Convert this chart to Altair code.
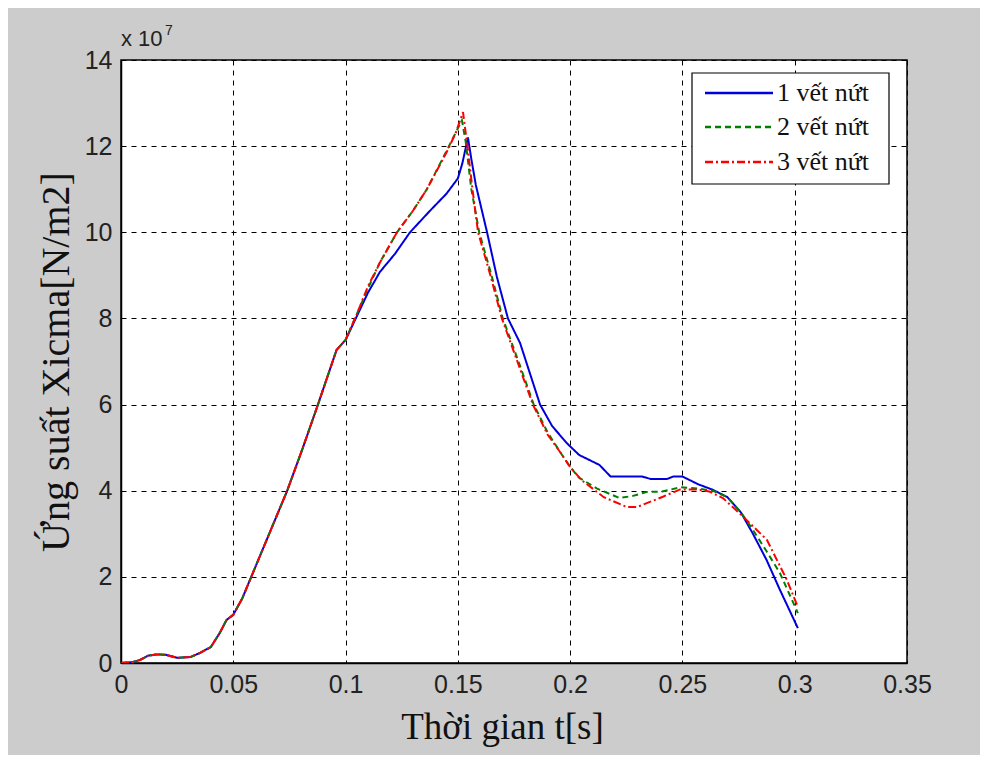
import altair as alt
import pandas as pd

# shared rising part (t in s, stress in 1e7 N/m2)
rise_t = [0, 0.005, 0.0085, 0.012, 0.016, 0.02, 0.025, 0.031, 0.035, 0.04, 0.044,
          0.047, 0.05, 0.054, 0.058, 0.066, 0.074, 0.081, 0.0877, 0.096, 0.1]
rise_y = [0, 0.02, 0.07, 0.17, 0.2, 0.19, 0.12, 0.14, 0.23, 0.37, 0.7,
          1.0, 1.12, 1.5, 2.0, 3.0, 4.0, 5.0, 6.0, 7.27, 7.5]

s1_t = [0.105, 0.11, 0.1153, 0.122, 0.1287, 0.1376, 0.145, 0.15, 0.152, 0.1545, 0.156,
        0.158, 0.163, 0.1674, 0.1723, 0.1777, 0.1866, 0.192, 0.1986, 0.204, 0.213,
        0.218, 0.232, 0.236, 0.243, 0.246, 0.25, 0.257, 0.2636, 0.27, 0.276, 0.2814,
        0.2874, 0.2934, 0.3014]
s1_y = [8.05, 8.6, 9.08, 9.5, 10.0, 10.5, 10.9, 11.25, 11.6, 12.2, 11.7,
        11.1, 10.0, 8.96, 8.0, 7.43, 6.0, 5.5, 5.1, 4.83, 4.6,
        4.33, 4.33, 4.27, 4.27, 4.33, 4.33, 4.15, 4.02, 3.85, 3.5, 3.0,
        2.4, 1.7, 0.81]

s2_t = [0.105, 0.11, 0.1153, 0.1229, 0.13, 0.1362, 0.1451, 0.1518, 0.1535, 0.156,
        0.1595, 0.165, 0.17, 0.177, 0.1838, 0.19, 0.1955, 0.2, 0.204, 0.212, 0.222,
        0.228, 0.234, 0.241, 0.249, 0.2566, 0.2636, 0.27, 0.276, 0.2814, 0.2874,
        0.2934, 0.3014]
s2_y = [8.1, 8.7, 9.3, 10.0, 10.5, 11.0, 11.9, 12.6, 12.1, 11.0,
        10.0, 9.0, 8.0, 7.0, 6.0, 5.35, 4.9, 4.55, 4.3, 4.05, 3.83,
        3.88, 3.97, 3.98, 4.08, 4.05, 4.0, 3.85, 3.5, 3.09, 2.6,
        2.09, 1.16]

s3_t = [0.105, 0.11, 0.1153, 0.1229, 0.13, 0.1362, 0.1451, 0.149, 0.1523, 0.1545,
        0.1565, 0.159, 0.1645, 0.1696, 0.1765, 0.1834, 0.19, 0.1955, 0.2, 0.205,
        0.215, 0.2253, 0.2297, 0.2413, 0.249, 0.2566, 0.262, 0.268, 0.276, 0.2876,
        0.2965, 0.3014]
s3_y = [8.1, 8.75, 9.3, 10.0, 10.5, 11.0, 11.87, 12.3, 12.79, 11.9,
        11.0, 10.0, 9.0, 8.0, 7.0, 6.0, 5.3, 4.9, 4.55, 4.25,
        3.85, 3.62, 3.62, 3.86, 4.03, 4.03, 3.98, 3.83, 3.45, 2.86,
        1.93, 1.3]

series_names = ["1 vết nứt", "2 vết nứt", "3 vết nứt"]
series_colors = ["#0000dd", "#008000", "#ff0000"]
series_dash = [[1, 0], [6, 4], [8, 3, 2, 3]]

x_ticks = [0, 0.05, 0.1, 0.15, 0.2, 0.25, 0.3, 0.35]
y_ticks = [0, 2, 4, 6, 8, 10, 12, 14]

rows = []
for name, ts, ys in zip(series_names, [s1_t, s2_t, s3_t], [s1_y, s2_y, s3_y]):
    allt = rise_t + ts
    ally = rise_y + ys
    for i, (t, y) in enumerate(zip(allt, ally)):
        rows.append({"t": t, "y": y, "series": name, "order": i})
df = pd.DataFrame(rows)

color_scale = alt.Scale(domain=series_names, range=series_colors)
dash_scale = alt.Scale(domain=series_names, range=series_dash)

lines = alt.Chart(df).mark_line(strokeWidth=2, clip=True).encode(
    x=alt.X("t:Q", scale=alt.Scale(domain=[0, 0.35], nice=False),
            axis=alt.Axis(values=x_ticks, format="~g", title="Thời gian t[s]",
                          grid=True, titlePadding=12, titleFontSize=37,
                          labelFlush=False, titleX=381, titleAlign="center")),
    y=alt.Y("y:Q", scale=alt.Scale(domain=[0, 14], nice=False),
            axis=alt.Axis(values=y_ticks, format="~g", title="Ứng suất Xicma[N/m2]",
                          grid=True, titlePadding=8, titleFontSize=40,
                          labelFlush=False)),
    color=alt.Color("series:N", scale=color_scale, legend=None),
    strokeDash=alt.StrokeDash("series:N", scale=dash_scale, legend=None),
    order="order:Q",
)

one = pd.DataFrame({"a": [0]})

exp_text = alt.Chart(one).mark_text(
    text="x 10", align="left", baseline="bottom", fontSize=22,
    font="Liberation Sans", color="#222"
).encode(x=alt.value(0), y=alt.value(-9))
exp_sup = alt.Chart(one).mark_text(
    text="7", align="left", baseline="bottom", fontSize=14,
    font="Liberation Sans", color="#222"
).encode(x=alt.value(44), y=alt.value(-22))

# legend (manual, MATLAB style)
legend_box = alt.Chart(one).mark_rect(fill="white", stroke="black", strokeWidth=1.2).encode(
    x=alt.value(571), x2=alt.value(768), y=alt.value(13), y2=alt.value(124)
)
legend_layers = [legend_box]
row_y = [33, 67, 102]
for name, col, dash, yy in zip(series_names, series_colors, series_dash, row_y):
    legend_layers.append(
        alt.Chart(one).mark_rule(color=col, strokeWidth=2.5, strokeDash=dash).encode(
            x=alt.value(584), x2=alt.value(652), y=alt.value(yy)
        )
    )
    legend_layers.append(
        alt.Chart(one).mark_text(text=name, align="left", baseline="middle",
                                 font="Liberation Serif",
                                 fontSize=26, color="#111").encode(
            x=alt.value(656), y=alt.value(yy)
        )
    )

chart = alt.layer(lines, exp_text, exp_sup, *legend_layers).properties(
    width=786, height=603,
    autosize=alt.AutoSizeParams(type="none"),
    padding={"left": 113, "top": 52, "right": 73, "bottom": 92},
    background="#cccccc",
).configure_view(
    fill="white", stroke="black", strokeWidth=1.5
).configure_axis(
    labelFont="Liberation Sans", labelFontSize=25, labelColor="#222",
    titleFont="Liberation Serif", titleFontWeight="normal",
    titleColor="#111",
    gridColor="black", gridDash=[5, 5], gridOpacity=1, gridWidth=1,
    domainColor="black", domainWidth=1.5, ticks=False, labelPadding=9,
)

chart.save("out.html", embed_options={"renderer": "svg", "actions": False})
